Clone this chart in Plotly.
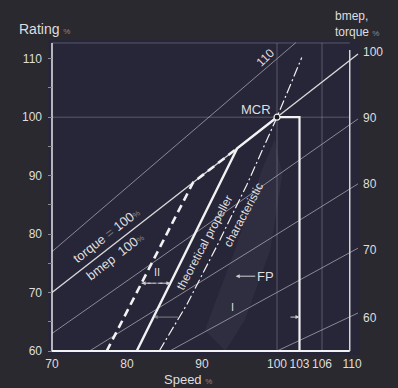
import plotly.graph_objects as go

# ---------------- data ----------------
speed_ticks = [70, 80, 90, 100, 103, 106, 110]
rating_ticks = [60, 70, 80, 90, 100, 110]

# constant bmep / torque lines (percent of MCR)
bmep_levels = [60, 70, 80, 90, 100, 110]
bmep_start_speed = [100.0, 85.7, 75.0, 70.0, 70.0, 70.0]
bmep_start_rating = [60.0, 60.0, 60.0, 63.0, 70.0, 77.0]
bmep_end_speed = [110.8, 110.8, 110.8, 110.8, 110.8, 102.5]
bmep_end_rating = [66.5, 77.6, 88.6, 99.7, 110.8, 112.75]
bmep_label_rating = [65.6, 77.3, 88.6, 99.8, 111.2]

# theoretical propeller characteristic (dash-dot)
theo_speed = [84.3, 88.0, 92.0, 96.0, 100.0, 103.3]
theo_rating = [60.0, 68.0, 78.0, 88.5, 100.0, 110.2]

# propeller curve I (solid) and II (dashed)
curve1_speed = [81.3, 94.7, 100.0]
curve1_rating = [60.0, 94.7, 100.0]
curve2_speed = [77.3, 88.8, 94.7]
curve2_rating = [60.0, 88.8, 94.7]

# layout limits: MCR -> 103 % speed -> down
limit_speed = [100.0, 103.0, 103.0]
limit_rating = [100.0, 100.0, 60.0]
mcr_speed = [100.0]
mcr_rating = [100.0]

# shaded FP zone
shade_speed = [90.4, 94.4, 98.0, 99.7, 100.7, 99.1, 95.7, 93.1]
shade_rating = [63.6, 77.3, 91.0, 96.1, 90.1, 77.3, 65.3, 60.0]

# margin arrows
arrow2_rating = 71.6
arrow2_speeds = [81.95, 85.8]
arrow1_rating = 65.8
arrow1_speeds = [83.56, 103.0]

# frame
frame_speed = [70.0, 109.7]
frame_rating = [60.0, 112.7]

# ---------------- figure ----------------
WHITE = '#f2f2f2'
TXT = '#dedede'
FAINT = 'rgba(165,165,180,0.40)'
GRAYLINE = 'rgba(180,180,190,0.70)'
FONT = 'Liberation Sans, Arial, sans-serif'

fig = go.Figure()


def add_line(xs, ys, color, width, dash=None, fill=None, fillcolor=None):
    fig.add_trace(go.Scatter(x=xs, y=ys, mode='lines',
                             line=dict(color=color, width=width, dash=dash),
                             fill=fill, fillcolor=fillcolor,
                             hoverinfo='skip', showlegend=False))


# shaded area
add_line(shade_speed + [shade_speed[0]], shade_rating + [shade_rating[0]],
         'rgba(0,0,0,0)', 0, fill='toself', fillcolor='rgba(200,200,225,0.055)')

# faint grid
add_line([frame_speed[0], frame_speed[1]], [100, 100], FAINT, 1)
add_line([100, 100], [frame_rating[0], frame_rating[1]], FAINT, 1)
add_line([106, 106], [frame_rating[0], frame_rating[1]], FAINT, 1)
add_line([frame_speed[0], frame_speed[1]], [frame_rating[1], frame_rating[1]], FAINT, 1)

# bmep lines
for b, xs0, ys0, xs1, ys1 in zip(bmep_levels, bmep_start_speed, bmep_start_rating,
                                  bmep_end_speed, bmep_end_rating):
    if b == 100:
        add_line([xs0, xs1], [ys0, ys1], '#d8d8d8', 1.4)
    else:
        add_line([xs0, xs1], [ys0, ys1], GRAYLINE, 1)

# frame: left, bottom, right
add_line([frame_speed[0], frame_speed[0]], [frame_rating[0], frame_rating[1]], WHITE, 1.4)
add_line([frame_speed[0], frame_speed[1]], [frame_rating[0], frame_rating[0]], WHITE, 1.8)
add_line([frame_speed[1], frame_speed[1]], [frame_rating[0], 111.5], '#e0e0e0', 1.4)

# curves
add_line(theo_speed, theo_rating, WHITE, 1.2, dash='10px,3px,2px,3px')
add_line(curve2_speed, curve2_rating, WHITE, 2.6, dash='8px,5px')
add_line(curve1_speed, curve1_rating, WHITE, 2.4)
add_line(limit_speed, limit_rating, WHITE, 2.2)

# MCR point
fig.add_trace(go.Scatter(x=mcr_speed, y=mcr_rating, mode='markers',
                         marker=dict(size=6, color='#1a1a22', line=dict(color=WHITE, width=1.2)),
                         hoverinfo='skip', showlegend=False))

# arrow II (dashed)
add_line(arrow2_speeds, [arrow2_rating, arrow2_rating], '#cfcfcf', 1, dash='3px,3px')

annotations = []


def ann(x, y, text, size=12, angle=0, color=TXT, **kw):
    d = dict(x=x, y=y, xref='x', yref='y', text=text, showarrow=False,
             textangle=angle, font=dict(family=FONT, size=size, color=color))
    d.update(kw)
    annotations.append(d)


def arrow(tipx, tipy, tailx, taily, color='#cfcfcf'):
    annotations.append(dict(x=tipx, y=tipy, ax=tailx, ay=taily, xref='x', yref='y',
                            axref='x', ayref='y', text='', showarrow=True,
                            arrowhead=2, arrowsize=0.8, arrowwidth=1, arrowcolor=color))


mid2 = (arrow2_speeds[0] + arrow2_speeds[1]) / 2
arrow(arrow2_speeds[0], arrow2_rating, mid2, arrow2_rating)
arrow(arrow2_speeds[1], arrow2_rating, mid2, arrow2_rating)
arrow(arrow1_speeds[0], arrow1_rating, 87.0, arrow1_rating, 'rgba(200,200,200,0.55)')
arrow(arrow1_speeds[1], arrow1_rating, 101.6, arrow1_rating, '#cfcfcf')
arrow(94.5, 72.8, 97.3, 72.8, '#cfcfcf')

PCT = '<span style="font-size:8px;color:#8a8a8a">%</span>'

ann(97.2, 101.3, 'MCR', size=13)
ann(98.4, 110.1, '110', size=12, angle=-45)
ann(77.2, 79.8, 'torque <span style="color:#777">=</span> 100' + PCT, size=13, angle=-38)
ann(78.4, 76.1, 'bmep  100' + PCT, size=13, angle=-38)
ann(90.3, 78.5, 'theoretical propeller', size=12, angle=-62)
ann(95.5, 83.3, 'characteristic', size=12, angle=-62)
ann(84.0, 73.6, 'II', size=11)
ann(94.0, 67.6, 'I', size=11)
ann(98.5, 72.7, 'FP', size=13)

# right-hand bmep scale labels
for b, ye in zip(bmep_levels, bmep_label_rating):
    ann(bmep_end_speed[0], ye, str(b), size=12, xanchor='left', xshift=3)

# axis titles (paper coords: plot area spans px 48..360 horizontally, 40..355 vertically)
def paper_ann(px, py, text, size, xanchor='left'):
    annotations.append(dict(x=(px - 48) / 312.0, y=(355 - py) / 315.0, xref='paper', yref='paper',
                            xanchor=xanchor, yanchor='middle', text=text, showarrow=False,
                            font=dict(family=FONT, size=size, color=TXT)))


paper_ann(17, 29, 'Rating ' + PCT, 14)
paper_ann(188, 379, 'Speed ' + PCT, 13, xanchor='center')
paper_ann(333, 16, 'bmep,', 12)
paper_ann(333, 31.5, 'torque ' + PCT, 12)

fig.update_layout(
    width=398, height=388, autosize=False,
    margin=dict(l=48, r=38, t=40, b=33),
    paper_bgcolor='#2a2930', plot_bgcolor='#272538',
    font=dict(family=FONT, size=12, color=TXT),
    annotations=annotations,
    xaxis=dict(range=[69.4667, 111.0667], tickvals=speed_ticks,
               ticktext=[str(v) for v in speed_ticks], showgrid=False, zeroline=False,
               showline=False, ticks='', tickfont=dict(size=12, color=TXT), automargin=False),
    yaxis=dict(range=[59.316, 113.208], tickvals=rating_ticks,
               ticktext=[str(v) for v in rating_ticks], showgrid=False, zeroline=False,
               showline=False, ticks='inside', ticklen=4, tickcolor='#8a8a8a',
               ticklabelstandoff=5, automargin=False,
               minor=dict(dtick=5, tick0=60, ticks='inside', ticklen=4, tickcolor='#8a8a8a',
                          showgrid=False),
               tickfont=dict(size=12, color=TXT)),
)

fig.write_html('out.html', config={'displayModeBar': False},
               post_script="document.body.style.margin='0px';document.body.style.padding='0px';")
